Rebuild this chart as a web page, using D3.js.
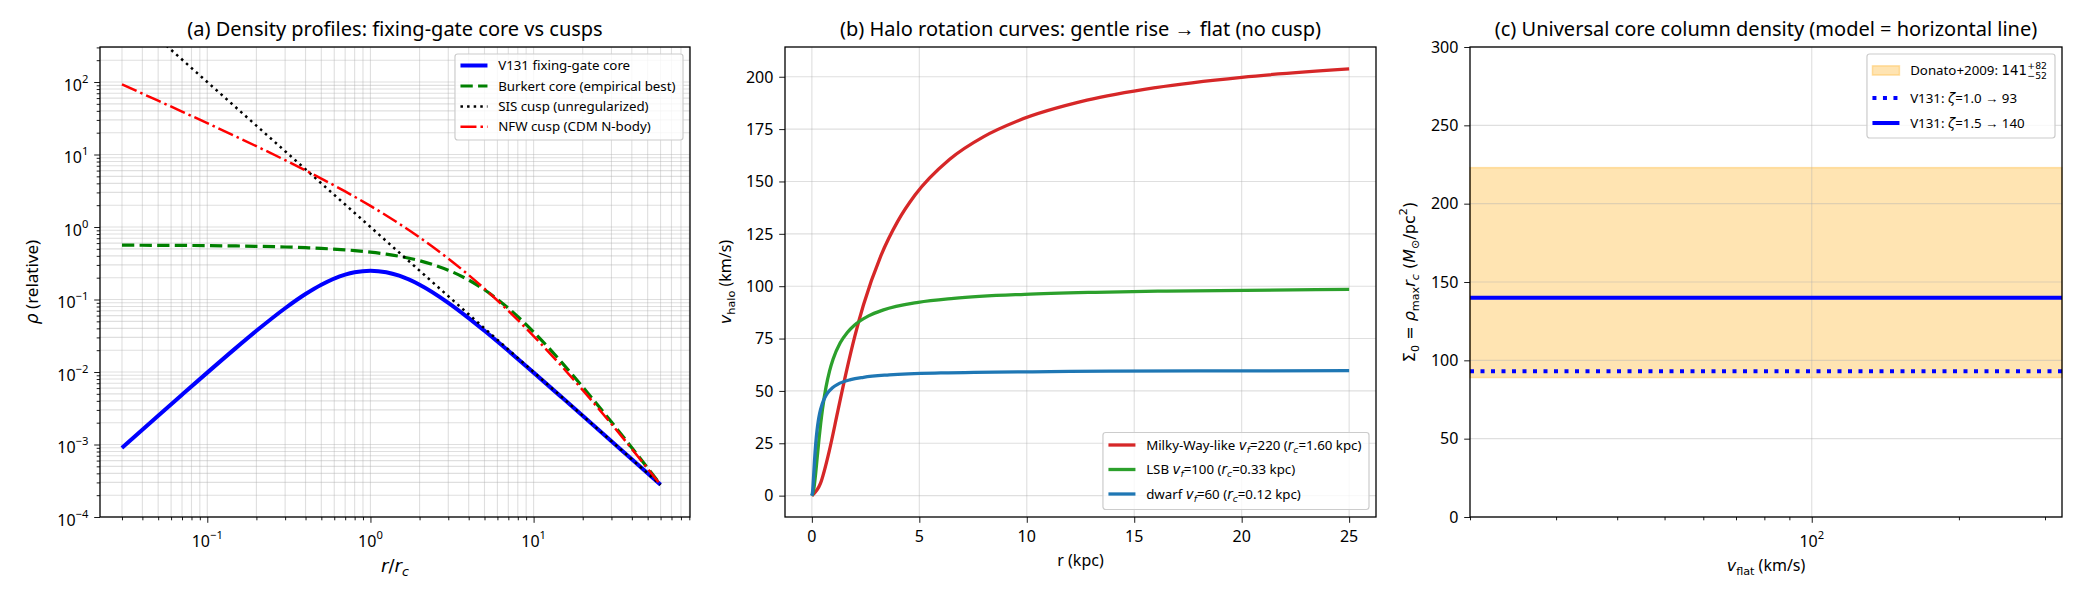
<!DOCTYPE html>
<html><head><meta charset="utf-8">
<script src="https://cdn.jsdelivr.net/npm/d3@7"></script>
<style>
body{margin:0;background:#fff}
text{font-family:"Noto Sans",sans-serif;fill:#000}
</style></head><body>
<svg id="fig" width="2080" height="598"></svg>
<script>
// ---- panel (a): density profiles, r/rc vs relative rho ----
const rhoX = [0.03,0.05,0.07,0.1,0.15,0.2,0.3,0.4,0.5,0.7,0.8,1,1.25,1.5,2,3,4,5,7,10,15,20,30,40,60];
const rhoV131 = [0.000898,0.002488,0.004852,0.009803,0.021521,0.036982,0.075751,0.118906,0.16,0.220711,0.237954,0.25,0.237954,0.213018,0.16,0.09,0.055363,0.036982,0.0196,0.009803,0.004405,0.002488,0.001109,0.000624,0.000278];
const rhoBurkert = [0.5615,0.5592,0.5569,0.5534,0.5476,0.5418,0.5303,0.5187,0.5072,0.4842,0.4727,0.45,0.4221,0.3949,0.3431,0.2539,0.1857,0.13614,0.07591,0.03564,0.013274,0.006227,0.002038,0.000901,0.0002793];
const rhoSIS = [1111.1,400,204.08,100,44.44,25,11.11,6.25,4,2.041,1.5625,1,0.64,0.4444,0.25,0.1111,0.0625,0.04,0.02041,0.01,0.004444,0.0025,0.001111,0.000625,0.0002778];
const rhoNFW = [92.72,55.19,39.11,27.06,17.69,13.013,8.351,6.034,4.653,3.094,2.615,1.955,1.4413,1.1105,0.7181,0.3665,0.2172,0.14075,0.06982,0.03128,0.011729,0.00563,0.001915,0.000869,0.0002776];
const aTicksX = [0.1, 1, 10];
const aTicksY = [1e-4, 1e-3, 1e-2, 1e-1, 1, 10, 100];

// ---- panel (b): rotation curves, r (kpc) vs v (km/s) ----
const mwR = [0,0.4,0.8,1.2,1.6,2.0,2.4,3.2,4.0,4.8,6.4,8.0,9.6,12.8,16,20,25];
const mwV = [0,5.86,20.94,39.96,58.99,76.16,90.99,114.24,131.04,143.5,160.5,171.43,179.01,188.8,194.83,199.74,203.71];
const lsbR = [0,0.0825,0.165,0.2475,0.33,0.4125,0.495,0.66,0.825,0.99,1.32,1.65,1.98,2.64,3.3,4.95,6.6,9.9,13.2,16.5,25];
const lsbV = [0,2.67,9.52,18.17,26.82,34.62,41.36,51.93,59.56,65.23,72.96,77.92,81.37,85.82,88.56,92.29,94.19,96.11,97.08,97.66,98.45];
const dwR = [0,0.03,0.06,0.09,0.12,0.15,0.18,0.24,0.3,0.36,0.48,0.6,0.72,0.96,1.2,1.8,2.4,3.6,6,12,18,25];
const dwV = [0,1.6,5.71,10.9,16.09,20.77,24.81,31.16,35.74,39.14,43.77,46.75,48.82,51.49,53.14,55.38,56.51,57.66,58.59,59.3,59.53,59.66];
const bTicksX = [0,5,10,15,20,25];
const bTicksY = [0,25,50,75,100,125,150,175,200];

// ---- panel (c): core column density ----
const donatoMid = 141, donatoUp = 82, donatoDown = 52;
const sigmaZeta10 = 93, sigmaZeta15 = 140;
const cTicksX = [100];
const cTicksY = [0,50,100,150,200,250,300];

// ---- layout ----
const A = {l:100, r:690, t:47, b:517};
const B = {l:785, r:1376, t:47, b:517};
const C = {l:1470, r:2062, t:47, b:517};
const MATH = '"DejaVu Sans"';

const svg = d3.select('#fig');
svg.append('rect').attr('width',2080).attr('height',598).attr('fill','#fff');

// text with sub/superscripts and math pieces
function rich(t, parts) {
  const fs = +t.attr('font-size');
  let cur = 0;
  parts.forEach(([s, o = {}]) => {
    const target = o.sub ? fs * 0.24 : o.sup ? -fs * 0.48 : 0;
    const ts = t.append('tspan').text(s);
    if (target !== cur) ts.attr('dy', target - cur);
    cur = target;
    if (o.sub || o.sup) ts.attr('font-size', fs * 0.7);
    if (o.m) ts.style('font-family', MATH);
    if (o.i) ts.style('font-style', 'italic');
  });
  return t;
}
function powLabel(v) {
  const e = Math.round(Math.log10(v));
  return [['10'], [e < 0 ? '\u2212' + (-e) : '' + e, {sup:true}]];
}

function clipFor(id, box) {
  svg.append('clipPath').attr('id', id).append('rect')
    .attr('x', box.l).attr('y', box.t).attr('width', box.r - box.l).attr('height', box.b - box.t);
}

function grid(box, x, y, xs, ys) {
  const g = svg.append('g').attr('stroke', '#b0b0b0').attr('stroke-opacity', 0.4).attr('stroke-width', 1.1);
  xs.forEach(v => g.append('line').attr('x1', x(v)).attr('x2', x(v)).attr('y1', box.t).attr('y2', box.b));
  ys.forEach(v => g.append('line').attr('y1', y(v)).attr('y2', y(v)).attr('x1', box.l).attr('x2', box.r));
}

function axes(box, x, y, o) {
  const gx = svg.append('g').attr('transform', `translate(0,${box.b})`).attr('color', '#000');
  gx.call(d3.axisBottom(x).tickValues(o.xMajor).tickSize(5.8).tickFormat(() => ''));
  if (o.xMinor) gx.append('g').call(d3.axisBottom(x).tickValues(o.xMinor).tickSize(3.3).tickFormat(() => ''));
  const gy = svg.append('g').attr('transform', `translate(${box.l},0)`).attr('color', '#000');
  gy.call(d3.axisLeft(y).tickValues(o.yMajor).tickSize(5.8).tickFormat(() => ''));
  if (o.yMinor) gy.append('g').call(d3.axisLeft(y).tickValues(o.yMinor).tickSize(3.3).tickFormat(() => ''));
  [gx, gy].forEach(g => {
    g.selectAll('.domain').remove();
    g.selectAll('text').remove();
    g.selectAll('line').attr('stroke-width', 1.2);
  });
  gx.selectAll('g g line, g g g line').attr('stroke-width', 0.9);
  gy.selectAll('g g line, g g g line').attr('stroke-width', 0.9);

  o.xMajor.forEach(v => {
    const t = svg.append('text').attr('x', x(v)).attr('y', o.xLog ? 546.5 : 541.5)
      .attr('text-anchor', 'middle').attr('font-size', 16);
    rich(t, o.xLog ? powLabel(v) : [[String(v)]]);
  });
  o.yMajor.forEach(v => {
    const t = svg.append('text').attr('x', box.l - 11.6).attr('y', y(v) + (o.yLog ? 8.5 : 5.8))
      .attr('text-anchor', 'end').attr('font-size', 16);
    rich(t, o.yLog ? powLabel(v) : [[String(v)]]);
  });
  svg.append('rect').attr('x', box.l).attr('y', box.t).attr('width', box.r - box.l).attr('height', box.b - box.t)
    .attr('fill', 'none').attr('stroke', '#000').attr('stroke-width', 1.3);
}

function title(box, s) {
  svg.append('text').attr('x', (box.l + box.r) / 2).attr('y', 36).attr('text-anchor', 'middle')
    .attr('font-size', 20).text(s);
}
function xlabel(box, y, fs, parts) {
  rich(svg.append('text').attr('x', (box.l + box.r) / 2).attr('y', y).attr('text-anchor', 'middle').attr('font-size', fs), parts);
}
function ylabel(box, x, fs, parts) {
  rich(svg.append('text').attr('transform', `translate(${x},${(box.t + box.b) / 2}) rotate(-90)`)
    .attr('text-anchor', 'middle').attr('font-size', fs), parts);
}

// legend: items {handle(g,x0,x1,cy), parts, extra(t,g)}
function legend(items, o) {
  const fs = 13.3, padX = 5.5, hl = 27, gap = 10.7;
  const lg = svg.append('g');
  const box = lg.append('rect');
  let maxW = 0;
  items.forEach((it, i) => {
    const cy = o.rows[i];
    it.handle(lg, padX, padX + hl, cy);
    const t = lg.append('text').attr('x', padX + hl + gap).attr('y', cy + 4.7).attr('font-size', fs);
    rich(t, it.parts);
    let w = t.node().getComputedTextLength();
    if (it.extra) w += it.extra(lg, padX + hl + gap + w, cy + 4.7, fs);
    maxW = Math.max(maxW, w);
  });
  const w = padX + hl + gap + maxW + padX + 2;
  box.attr('width', w).attr('height', o.h).attr('rx', 2.7)
    .attr('fill', '#fff').attr('fill-opacity', 0.8).attr('stroke', '#cccccc').attr('stroke-width', 1.2);
  lg.attr('transform', `translate(${o.right - w},${o.top})`);
}
function lineHandle(color, w, dash) {
  return (g, x0, x1, cy) => g.append('line').attr('x1', x0).attr('x2', x1).attr('y1', cy).attr('y2', cy)
    .attr('stroke', color).attr('stroke-width', w).attr('stroke-dasharray', dash);
}
function drawLine(xs, ys, x, y, clip, color, w, dash) {
  svg.append('path').datum(xs.map((v, i) => [v, ys[i]]))
    .attr('clip-path', `url(#${clip})`)
    .attr('fill', 'none').attr('stroke', color).attr('stroke-width', w).attr('stroke-dasharray', dash)
    .attr('d', d3.line().x(d => x(d[0])).y(d => y(d[1])).curve(d3.curveMonotoneX));
}

// ================= panel (a) =================
const xa = d3.scaleLog().domain([0.022, 90.9]).range([A.l, A.r]);
const ya = d3.scaleLog().domain([1e-4, 304]).range([A.b, A.t]);
clipFor('ca', A);
const aMinX = xa.ticks().filter(v => !aTicksX.includes(v) && v > 0.022);
const aMinY = ya.ticks().filter(v => !aTicksY.some(t => Math.abs(t - v) / t < 1e-9));
grid(A, xa, ya, aTicksX.concat(aMinX), aTicksY.concat(aMinY));
drawLine(rhoX, rhoV131, xa, ya, 'ca', '#0000ff', 4, null);
drawLine(rhoX, rhoBurkert, xa, ya, 'ca', '#008000', 3.2, '12.3,5.3');
drawLine(rhoX, rhoSIS, xa, ya, 'ca', '#000', 2.5, '2.5,4.1');
drawLine(rhoX, rhoNFW, xa, ya, 'ca', '#ff0000', 2.5, '16,4,2.5,4');
axes(A, xa, ya, {xMajor: aTicksX, xMinor: aMinX, yMajor: aTicksY, yMinor: aMinY, xLog: true, yLog: true});
title(A, '(a) Density profiles: fixing-gate core vs cusps');
xlabel(A, 572, 18, [['r', {m:1, i:1}], ['/', {m:1}], ['r', {m:1, i:1}], ['c', {m:1, i:1, sub:1}]]);
ylabel(A, 38, 17, [['ρ', {m:1, i:1}], [' (relative)']]);
legend([
  {handle: lineHandle('#0000ff', 4, null), parts: [['V131 fixing-gate core']]},
  {handle: lineHandle('#008000', 3.2, '12.3,5.3'), parts: [['Burkert core (empirical best)']]},
  {handle: lineHandle('#000', 2.5, '2.5,4.1'), parts: [['SIS cusp (unregularized)']]},
  {handle: lineHandle('#ff0000', 2.5, '16,4,2.5,4'), parts: [['NFW cusp (CDM N-body)']]}
], {right: A.r - 7, top: 54, h: 86, rows: [11.5, 32, 52.5, 72.7]});

// ================= panel (b) =================
const xb = d3.scaleLinear().domain([-1.25, 26.25]).range([B.l, B.r]);
const yb = d3.scaleLinear().domain([-10.2, 214.2]).range([B.b, B.t]);
clipFor('cb', B);
grid(B, xb, yb, bTicksX, bTicksY);
drawLine(mwR, mwV, xb, yb, 'cb', '#d62728', 3.3, null);
drawLine(lsbR, lsbV, xb, yb, 'cb', '#2ca02c', 3.3, null);
drawLine(dwR, dwV, xb, yb, 'cb', '#1f77b4', 3.3, null);
axes(B, xb, yb, {xMajor: bTicksX, yMajor: bTicksY});
title(B, '(b) Halo rotation curves: gentle rise \u2192 flat (no cusp)');
xlabel(B, 566, 16, [['r (kpc)']]);
ylabel(B, 731, 16, [['v', {m:1, i:1}], ['halo', {m:1, sub:1}], [' (km/s)']]);
const vfParts = (name, vf, rc) => [[name + ' '], ['v', {m:1, i:1}], ['f', {m:1, i:1, sub:1}], ['=' + vf + ' ('],
  ['r', {m:1, i:1}], ['c', {m:1, i:1, sub:1}], ['=' + rc + ' kpc)']];
legend([
  {handle: lineHandle('#d62728', 3.3, null), parts: vfParts('Milky-Way-like', 220, '1.60')},
  {handle: lineHandle('#2ca02c', 3.3, null), parts: vfParts('LSB', 100, '0.33')},
  {handle: lineHandle('#1f77b4', 3.3, null), parts: vfParts('dwarf', 60, '0.12')}
], {right: B.r - 7, top: 432.5, h: 77, rows: [12.5, 37, 61.5]});

// ================= panel (c) =================
const xc = d3.scaleLog().domain([20, 325]).range([C.l, C.r]);
const yc = d3.scaleLinear().domain([0, 300]).range([C.b, C.t]);
clipFor('cc', C);
const cMinX = xc.ticks().filter(v => !cTicksX.includes(v));
const bandLo = donatoMid - donatoDown, bandHi = donatoMid + donatoUp;
svg.append('rect').attr('x', C.l).attr('width', C.r - C.l)
  .attr('y', yc(bandHi)).attr('height', yc(bandLo) - yc(bandHi))
  .attr('fill', 'orange').attr('fill-opacity', 0.3).attr('stroke', 'orange').attr('stroke-opacity', 0.3).attr('stroke-width', 1.5);
grid(C, xc, yc, cTicksX, cTicksY);
const hline = (v, dash) => svg.append('line').attr('clip-path', 'url(#cc)')
  .attr('x1', C.l).attr('x2', C.r).attr('y1', yc(v)).attr('y2', yc(v))
  .attr('stroke', '#0000ff').attr('stroke-width', 4).attr('stroke-dasharray', dash);
hline(sigmaZeta10, '4,6.5');
hline(sigmaZeta15, null);
axes(C, xc, yc, {xMajor: cTicksX, xMinor: cMinX, yMajor: cTicksY, xLog: true});
title(C, '(c) Universal core column density (model = horizontal line)');
xlabel(C, 571, 16, [['v', {m:1, i:1}], ['flat', {m:1, sub:1}], [' (km/s)']]);
ylabel(C, 1415, 16, [['Σ', {m:1}], ['0', {m:1, sub:1}], [' = ', {m:1}], ['ρ', {m:1, i:1}], ['max', {m:1, sub:1}],
  ['r', {m:1, i:1}], ['c', {m:1, i:1, sub:1}], [' (', {m:1}], ['M', {m:1, i:1}], ['⊙', {m:1, sub:1}],
  ['/pc', {m:1}], ['2', {m:1, sup:1}], [')', {m:1}]]);
legend([
  {handle: (g, x0, x1, cy) => g.append('rect').attr('x', x0).attr('width', x1 - x0).attr('y', cy - 4.7).attr('height', 9.3)
      .attr('fill', 'orange').attr('fill-opacity', 0.3).attr('stroke', 'orange').attr('stroke-opacity', 0.3).attr('stroke-width', 1.5),
   parts: [['Donato+2009: '], [String(donatoMid), {m:1}]],
   extra: (g, x, base, fs) => {
     const s = fs * 0.7;
     const a = g.append('text').attr('x', x + 0.5).attr('y', base - fs * 0.45).attr('font-size', s).style('font-family', MATH).text('+' + donatoUp);
     const b = g.append('text').attr('x', x + 0.5).attr('y', base + fs * 0.3).attr('font-size', s).style('font-family', MATH).text('\u2212' + donatoDown);
     return Math.max(a.node().getComputedTextLength(), b.node().getComputedTextLength()) + 1;
   }},
  {handle: lineHandle('#0000ff', 4, '4,6.5'), parts: [['V131: '], ['ζ', {m:1, i:1}], ['=1.0 \u2192 ' + sigmaZeta10]]},
  {handle: lineHandle('#0000ff', 4, null), parts: [['V131: '], ['ζ', {m:1, i:1}], ['=1.5 \u2192 ' + sigmaZeta15]]}
], {right: C.r - 7, top: 54, h: 84, rows: [16.5, 44, 69]});
</script>
</body></html>
